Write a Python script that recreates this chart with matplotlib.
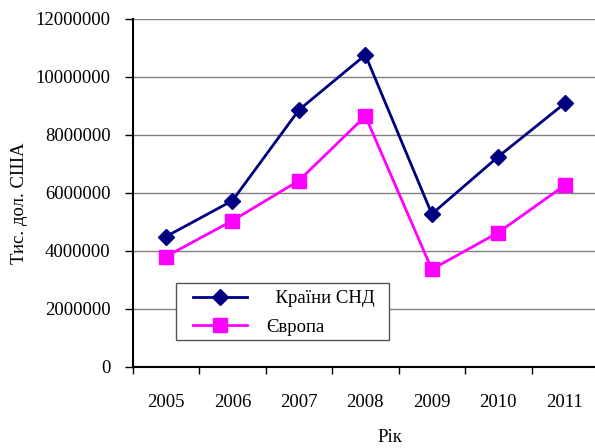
import matplotlib.pyplot as plt
from matplotlib.patches import Rectangle
from matplotlib.ticker import FixedLocator

plt.rcParams['font.family'] = ['Liberation Serif', 'DejaVu Serif']

years = ['2005', '2006', '2007', '2008', '2009', '2010', '2011']
cis = [4490000, 5730000, 8860000, 10760000, 5270000, 7250000, 9090000]
europe = [3800000, 5040000, 6420000, 8650000, 3360000, 4630000, 6260000]

W, H = 595, 448
fig = plt.figure(figsize=(W / 100, H / 100), dpi=100)
# axes: left 132.7px, right ~598px, top 19px, bottom 366.7px
ax = fig.add_axes([132.7 / W, (H - 366.7) / H, (598 - 132.7) / W, (366.7 - 19) / H])

x = list(range(len(years)))
ax.plot(x, cis, color='#000080', lw=2, marker='D', ms=8, label='  Країни СНД', clip_on=False, zorder=3)
ax.plot(x, europe, color='#FF00FF', lw=2, marker='s', ms=10, label='Європа', clip_on=False, zorder=3)

ax.set_xlim(-0.5, 6.5)
ax.set_ylim(0, 12000000)
ax.set_yticks(range(0, 12000001, 2000000))
ax.set_yticklabels([str(v) for v in range(0, 12000001, 2000000)])
ax.yaxis.grid(True, color='#808080', lw=1)
ax.set_axisbelow(True)

ax.set_xticks(x)
ax.set_xticklabels(years)
ax.xaxis.set_minor_locator(FixedLocator([i - 0.5 for i in range(8)]))
ax.tick_params(axis='x', which='major', length=0, pad=20, labelsize=13.5)
ax.tick_params(axis='x', which='minor', length=5, width=1, direction='out')
ax.tick_params(axis='y', length=6, width=1, direction='out', labelsize=13.5, pad=10)

for side in ['top', 'right']:
    ax.spines[side].set_visible(False)
ax.spines['left'].set_linewidth(1.5)
ax.spines['bottom'].set_linewidth(1.5)

ax.set_ylabel('Тис. дол. США', fontsize=13.5)
ax.yaxis.set_label_coords(28 / W, 1 - 203 / H, transform=fig.transFigure)
fig.text(390 / W, 1 - 437 / H, 'Рік', fontsize=13.5, ha='center', va='center')

# legend frame drawn by hand (176..389 px wide, 283..340 px high)
ax.add_patch(Rectangle((176 / W, 1 - 340 / H), (389 - 176) / W, 57 / H,
                       transform=fig.transFigure, facecolor='white',
                       edgecolor='#555555', lw=1, zorder=4, clip_on=False))
leg = ax.legend(loc='upper left', bbox_to_anchor=(193 / W, 1 - 290 / H),
                bbox_transform=fig.transFigure, frameon=False, fontsize=13.5,
                handlelength=2.9, borderpad=0, labelspacing=0.6, handletextpad=1.0,
                borderaxespad=0)
leg.set_zorder(5)

fig.savefig('out.png', dpi=100)
